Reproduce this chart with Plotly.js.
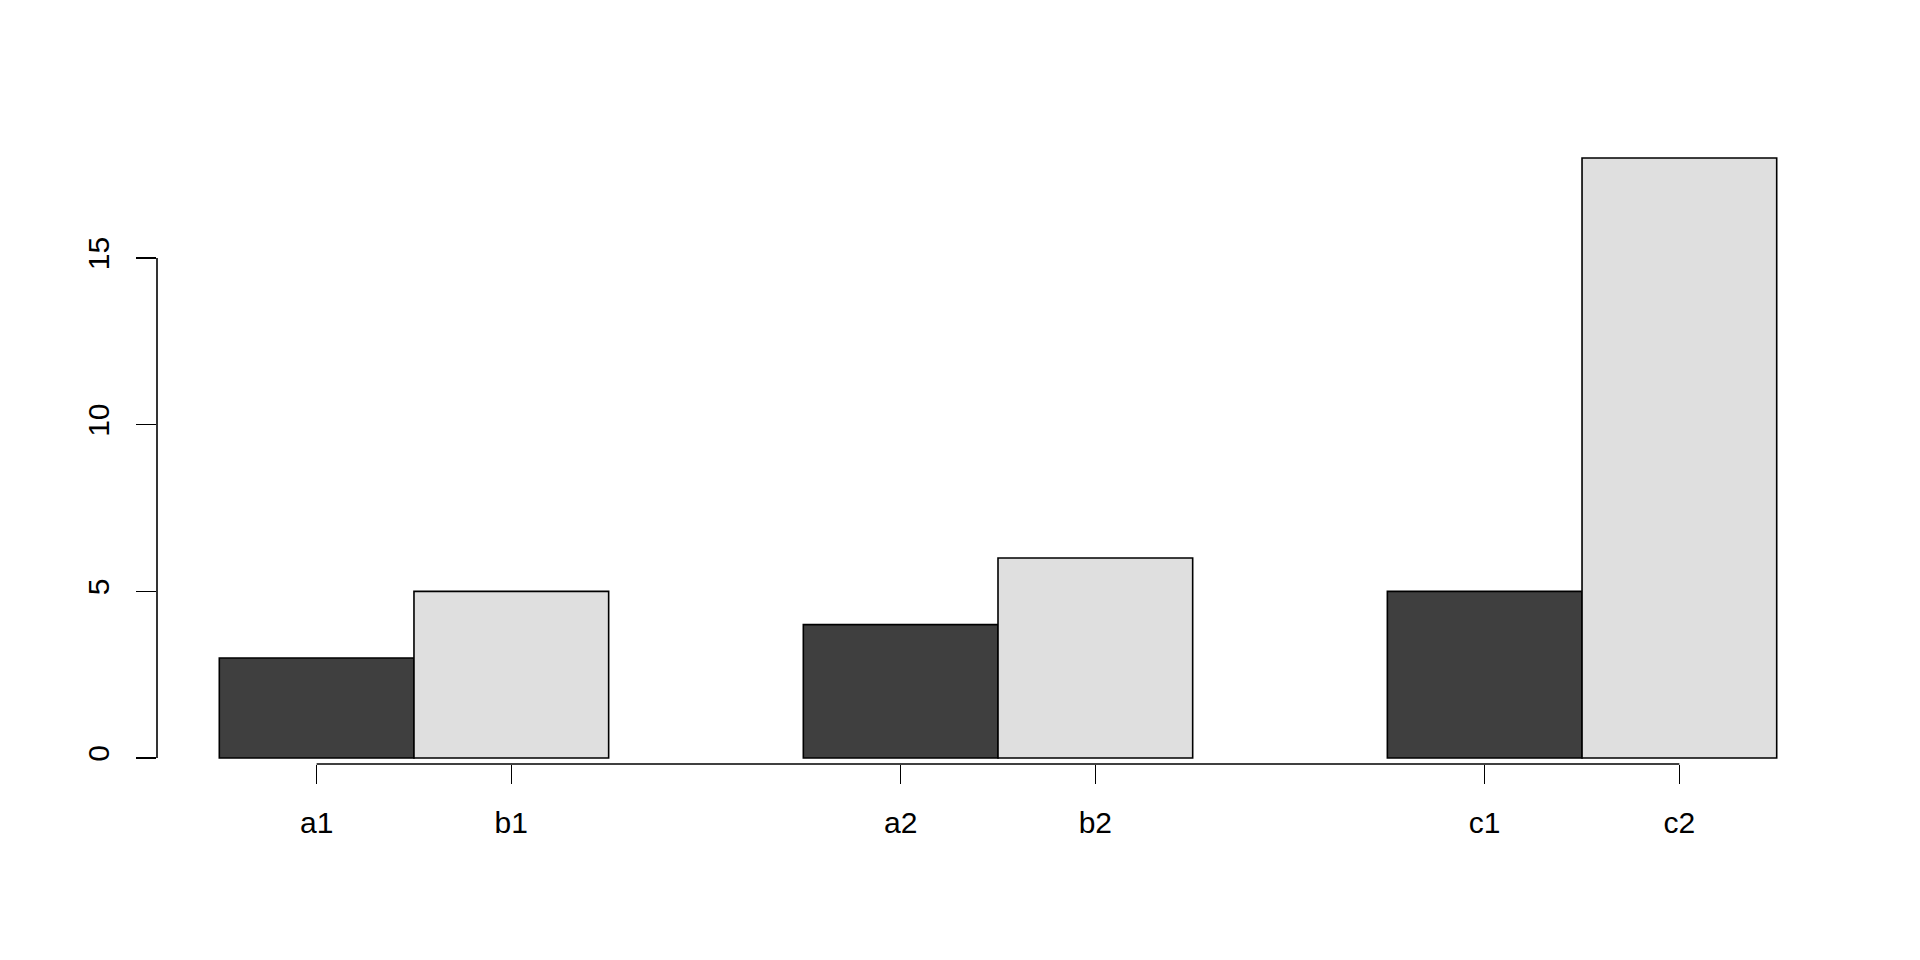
<!DOCTYPE html>
<html>
<head>
<meta charset="utf-8">
<script src="https://cdn.plot.ly/plotly-3.0.1.min.js"></script>
<style>html,body{margin:0;padding:0;background:#fff;}#chart{width:1920px;height:960px;}</style>
</head>
<body>
<div id="chart"></div>
<script>
// Data
const barLabels = ['a1', 'b1', 'a2', 'b2', 'c1', 'c2'];
const seriesDark = [3, 4, 5];     // a1, a2, c1
const seriesLight = [5, 6, 18];   // b1, b2, c2
const yTickVals = [0, 5, 10, 15];

// R barplot(beside=TRUE) positions: groups of 2 bars with a 1-bar gap
const darkX = [1.5, 4.5, 7.5];
const lightX = [2.5, 5.5, 8.5];
const allX = [1.5, 2.5, 4.5, 5.5, 7.5, 8.5];

const traces = [
  {type: 'bar', x: darkX, y: seriesDark, width: 1,
   marker: {color: '#3f3f3f', line: {color: '#000', width: 1.6}},
   hoverinfo: 'y', showlegend: false},
  {type: 'bar', x: lightX, y: seriesLight, width: 1,
   marker: {color: '#dfdfdf', line: {color: '#000', width: 1.6}},
   hoverinfo: 'y', showlegend: false}
];

const layout = {
  width: 1920, height: 960,
  paper_bgcolor: '#fff', plot_bgcolor: '#fff',
  margin: {l: 157, r: 81, t: 134, b: 196, pad: 0},
  barmode: 'overlay',
  font: {family: 'Liberation Sans, Arial, sans-serif', size: 30, color: '#000'},
  xaxis: {
    range: [0.68, 9.32], showgrid: false, zeroline: false, showline: false,
    tickmode: 'array', tickvals: allX, ticktext: barLabels,
    ticks: 'outside', ticklen: 19, tickwidth: 1.6, tickcolor: '#000',
    ticklabelstandoff: 13
  },
  yaxis: {
    range: [-0.18, 18.72], showgrid: false, zeroline: false, showline: false,
    tickmode: 'array', tickvals: yTickVals,
    ticks: 'outside', ticklen: 20, tickwidth: 1.6, tickcolor: '#000',
    tickangle: -90, ticklabelstandoff: 15
  },
  shapes: [
    {type: 'line', xref: 'paper', yref: 'y', x0: 0, x1: 0, y0: 0, y1: 15,
     line: {color: '#000', width: 1.6}},
    {type: 'line', xref: 'x', yref: 'paper', x0: 1.5, x1: 8.5, y0: 0, y1: 0,
     line: {color: '#000', width: 1.6}}
  ]
};

Plotly.newPlot('chart', traces, layout, {displayModeBar: false, staticPlot: true});
</script>
</body>
</html>
